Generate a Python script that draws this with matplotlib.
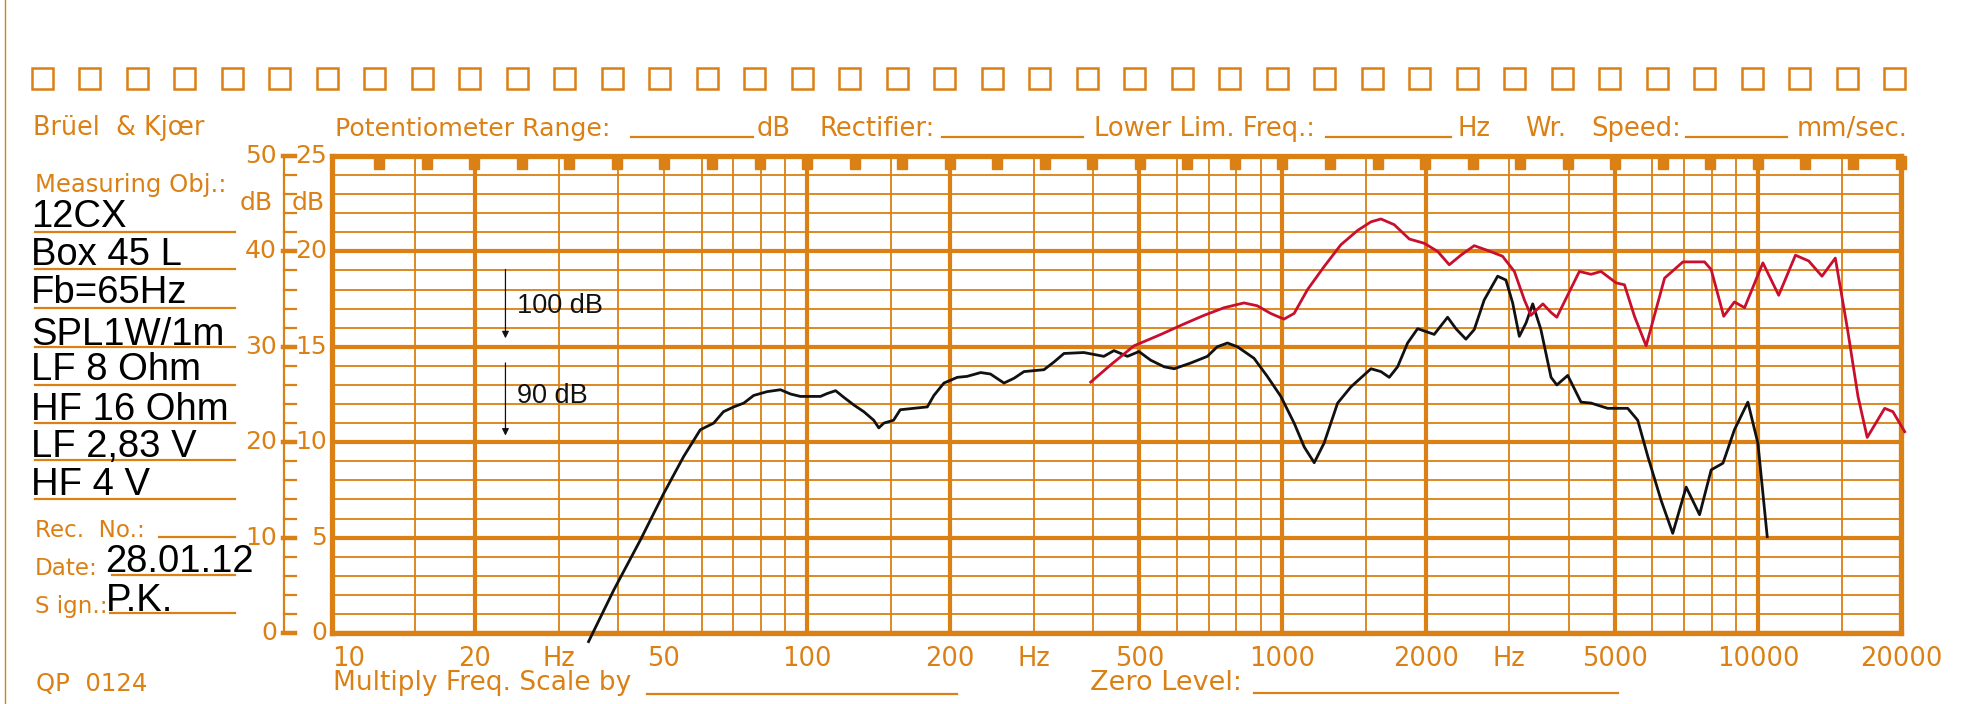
import numpy as np
import matplotlib.pyplot as plt
from matplotlib.lines import Line2D
from matplotlib.patches import Rectangle
from matplotlib.ticker import NullLocator

W, H = 1964, 704
ORANGE = '#DB8014'
plt.rcParams['font.family'] = 'DejaVu Sans'
BLACKFONT = 'Liberation Sans'

# black curve (LF + HF, 2.83 V)
black_freq = [34.7, 39.2, 44.6, 49.9, 55.0, 59.6, 63.6, 66.7, 70.1, 73.6, 77.2, 82.4, 87.9,
              92.3, 96.8, 106.7, 110.2, 114.8, 119.5, 125.4, 131.6, 138.1, 141.5, 145, 152,
              157, 167.5, 179, 184.8, 194, 207, 217, 231.8, 243, 259.5, 272.4, 285.9, 315,
              330.5, 347, 382, 421, 442, 472, 499, 528, 564, 592, 641, 695, 729, 766, 804,
              871, 929, 992, 1058, 1111, 1166, 1223, 1306, 1393, 1535, 1611, 1677, 1746,
              1833, 1924, 2085, 2225, 2316, 2431, 2531, 2656, 2835, 2951, 3049, 3149, 3253,
              3360, 3496, 3672, 3776, 3981, 4246, 4457, 4832, 5323, 5588, 5868, 6258, 6620,
              7065, 7539, 7975, 8443, 8925, 9526, 10000, 10462]
black_db = [-0.9, 4.5, 9.75, 14.6, 18.5, 21.3, 22.0, 23.2, 23.7, 24.1, 24.9, 25.3, 25.5,
            25.05, 24.8, 24.8, 25.1, 25.4, 24.7, 23.9, 23.2, 22.3, 21.5, 22.0, 22.3,
            23.4, 23.55, 23.7, 24.9, 26.2, 26.8, 26.9, 27.3, 27.15, 26.2, 26.7, 27.4, 27.6,
            28.4, 29.3, 29.4, 29.0, 29.6, 29.0, 29.5, 28.6, 27.9, 27.7, 28.3, 29.0, 30.0, 30.4, 30.0,
            28.8, 26.9, 24.8, 22.0, 19.5, 17.85, 19.9, 24.1, 25.8, 27.7, 27.4, 26.8, 27.9,
            30.4, 31.9, 31.3, 33.1, 31.9, 30.8, 31.8, 34.9, 37.4, 37.0, 34.6, 31.1, 32.5,
            34.5, 31.8, 26.8, 26.0, 27.0, 24.2, 24.1, 23.55, 23.55, 22.3, 18.5, 13.9, 10.45,
            15.3, 12.4, 17.1, 17.8, 21.3, 24.2, 19.9, 10.1]

# red curve (HF 4 V)
red_freq = [395, 435, 487, 555, 621, 684, 754, 830, 885, 944, 1007, 1058, 1129, 1223, 1327,
            1439, 1535, 1611, 1718, 1848, 1987, 2120, 2243, 2372, 2531, 2700, 2902, 3074,
            3228, 3331, 3530, 3672, 3776, 4212, 4457, 4677, 5032, 5240, 5500, 5820, 6364,
            6955, 7723, 7975, 8475, 8925, 9376, 10245, 11060, 11995, 12790, 13640, 14550,
            15440, 16240, 16980, 18480, 19230, 20360]
red_db = [26.3, 28.1, 30.1, 31.3, 32.4, 33.3, 34.1, 34.6, 34.3, 33.5, 32.9, 33.5, 36.0, 38.4, 40.7,
          42.2, 43.1, 43.4, 42.8, 41.3, 40.85, 40.0, 38.6, 39.6, 40.6, 40.1, 39.5, 37.9,
          34.9, 33.3, 34.5, 33.6, 33.1, 37.9, 37.6, 37.9, 36.7, 36.5, 33.2, 30.1, 37.2,
          38.9, 38.9, 38.1, 33.2, 34.7, 34.1, 38.8, 35.4, 39.6, 39.0, 37.4, 39.3,
          31.8, 24.8, 20.5, 23.55, 23.2, 21.1]

grid_freq = [10, 15, 20, 30, 40, 50, 60, 70, 80, 90, 100, 150, 200, 300, 400, 500, 600, 700,
             800, 900, 1000, 1500, 2000, 3000, 4000, 5000, 6000, 7000, 8000, 9000, 10000,
             15000, 20000]
bold_freq = [20, 100, 200, 500, 1000, 2000, 5000, 10000]
tick_freq = [20, 30, 50, 100, 200, 300, 500, 1000, 2000, 3000, 5000, 10000, 20000]
tick_text = ['20', 'Hz', '50', '100', '200', 'Hz', '500', '1000', '2000', 'Hz', '5000',
             '10000', '20000']
left_scale = ['0', '10', '20', '30', '40', '50']
right_scale = ['0', '5', '10', '15', '20', '25']
notes = ['12CX', 'Box 45 L', 'Fb=65Hz', 'SPL1W/1m', 'LF 8 Ohm', 'HF 16 Ohm', 'LF 2,83 V', 'HF 4 V']


def fx(x):
    return x / W


def fy(y):
    return 1 - y / H


def hline(x0, x1, y, lw=1.6, color=ORANGE):
    fig.add_artist(Line2D([fx(x0), fx(x1)], [fy(y), fy(y)], color=color, lw=lw))


def label(x, y, s, size=18.6, color=ORANGE, family='DejaVu Sans', ha='left', va='baseline'):
    fig.text(fx(x), fy(y), s, fontsize=size, color=color, family=family, ha=ha, va=va)


fig = plt.figure(figsize=(W / 100, H / 100), dpi=100)
x_left, x_right, y_top, y_bot = 331.7, 1901, 156, 633
ax = fig.add_axes([fx(x_left), fy(y_bot), (x_right - x_left) / W, (y_bot - y_top) / H])
ax.set_xscale('log')
ax.set_xlim(10, 20000)
ax.set_ylim(0, 50)

# chart paper grid
for f in grid_freq:
    ax.axvline(f, color=ORANGE, lw=3 if f in bold_freq else 1.3, zorder=1)
for d in range(0, 51, 2):
    ax.axhline(d, color=ORANGE, lw=3 if d % 10 == 0 else 1.3, zorder=1)
for s in ax.spines.values():
    s.set_color(ORANGE)
    s.set_linewidth(3.8)

# small marks hanging from the top edge every 1/10 decade
for k in range(1, 34):
    f = 10 ** (1 + 0.1 * k)
    lo, hi = f * 10 ** (-5 / 475), f * 10 ** (5 / 475)
    ax.add_patch(Rectangle((lo, 50 - 13 / 9.54), hi - lo, 13 / 9.54, color=ORANGE,
                           clip_on=False, zorder=3))

ax.xaxis.set_minor_locator(NullLocator())
ax.set_xticks([10] + tick_freq, labels=['10'] + tick_text)
ax.get_xticklabels()[0].set_ha('left')
ax.tick_params(axis='x', length=0, pad=9, labelsize=18.5, labelcolor=ORANGE)
ax.set_yticks([])

ax.plot(black_freq, black_db, color='#111111', lw=2.0, clip_on=False, zorder=5,
        solid_joinstyle='round')
ax.plot(red_freq, red_db, color='#C8102E', lw=2.0, clip_on=False, zorder=6,
        solid_joinstyle='round')

# reference arrows
ax.annotate('', xy=(23.2, 30.6), xytext=(23.2, 38.4),
            arrowprops=dict(arrowstyle='-|>', color='#111111', lw=0.9, mutation_scale=10))
ax.annotate('', xy=(23.2, 20.4), xytext=(23.2, 28.6),
            arrowprops=dict(arrowstyle='-|>', color='#111111', lw=0.9, mutation_scale=10))
ax.text(24.5, 34.3, '100 dB', fontsize=19.5, family=BLACKFONT, color='#111111', va='center')
ax.text(24.5, 24.8, '90 dB', fontsize=19.5, family=BLACKFONT, color='#111111', va='center')

# dB scales on the left
fig.add_artist(Line2D([fx(284), fx(284)], [fy(y_top), fy(y_bot)], color=ORANGE, lw=1.6))
for d in range(0, 51, 2):
    y = y_bot - d * 9.54
    if d % 10 == 0:
        hline(283, 295, y, lw=3.2)
    else:
        hline(284, 296, y, lw=1.6)
for i, d in enumerate(range(0, 51, 10)):
    y = y_bot - d * 9.54
    label(277, y, left_scale[i], size=18, ha='right', va='center')
    label(327, y, right_scale[i], size=18, ha='right', va='center')
label(273, 203, 'dB', size=18, ha='right', va='center')
label(325, 203, 'dB', size=18, ha='right', va='center')

# sprocket squares at the top
for k in range(40):
    cx = 42.2 + 47.5 * k
    fig.add_artist(Rectangle((fx(cx - 10.5), fy(89)), 21 / W, 21 / H, fill=False,
                             ec=ORANGE, lw=1.8, transform=fig.transFigure))
fig.add_artist(Line2D([fx(5), fx(5)], [0, 1], color=ORANGE, lw=1.0))

# header line
label(33, 135, 'Brüel  & Kjœr', size=18.4)
label(335, 136, 'Potentiometer Range:', size=18.2)
hline(631, 753, 137)
label(757, 136, 'dB')
label(819, 136, 'Rectifier:')
hline(942, 1083, 137)
label(1094, 136, 'Lower Lim. Freq.:')
hline(1326, 1451, 137)
label(1458, 136, 'Hz')
label(1525, 136, 'Wr.')
label(1591, 136, 'Speed:')
hline(1686, 1787, 137)
label(1797, 136, 'mm/sec.')

# measuring object block
label(35, 192, 'Measuring Obj.:', size=17.5)
base = [227, 265, 303, 345, 380, 420, 457, 495]
under = [231.7, 269, 308, 346.7, 385, 422.7, 460, 499]
for s, b, u in zip(notes, base, under):
    label(31, b, s, size=27.5, color='black', family=BLACKFONT)
    hline(35, 235, u)
label(35, 537, 'Rec.  No.:', size=16.6)
hline(159, 235, 537)
label(35, 575, 'Date:', size=16.6)
label(105, 572, '28.01.12', size=27.5, color='black', family=BLACKFONT)
hline(112, 235, 575)
label(35, 613, 'S ign.:', size=16.6)
label(106, 611, 'P.K.', size=27.5, color='black', family=BLACKFONT)
hline(110, 235, 613)
label(36, 691, 'QP  0124', size=17.6)

# footer
label(333, 690, 'Multiply Freq. Scale by', size=19)
hline(647, 957, 694)
label(1090, 690, 'Zero Level:', size=19.5)
hline(1254, 1618, 693)

fig.savefig('out.png', dpi=100, facecolor='white')
